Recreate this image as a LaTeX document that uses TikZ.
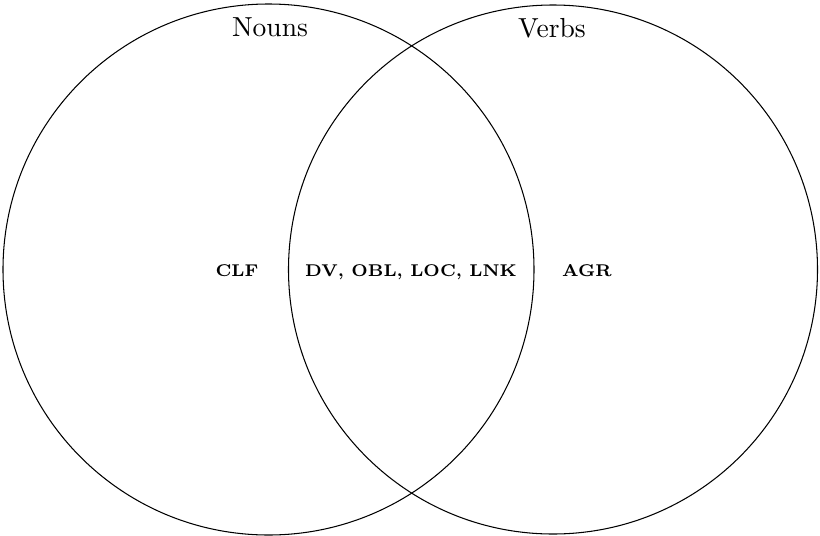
\documentclass[tikz,border=0pt]{standalone}
\usepackage{amsmath, amssymb}

\begin{document}
\begin{tikzpicture}[x=0.0134cm, y=-0.0134cm]
  \tikzstyle{every node}+=[inner sep=0pt]
  \tikzstyle{gloss}=[anchor=base, font=\fontsize{6.5}{8}\selectfont\bfseries]
  \useasboundingbox (0,0) rectangle (820,535);
  \draw [black] (268.5,269.5) circle (265.5);
  \draw [black] (553,269.5) circle (264.5);
  \node [anchor=base, font=\fontsize{10.5}{12}\selectfont] (nouns) at (270,36) {Nouns};
  \node [anchor=base, font=\fontsize{10.5}{12}\selectfont] (verbs) at (552,37) {Verbs};
  \node [gloss] (clf) at (237,276) {CLF};
  \node [gloss] (shared) at (411,276) {DV, OBL, LOC, LNK};
  \node [gloss] (agr) at (587,276) {AGR};
\end{tikzpicture}
\end{document}
